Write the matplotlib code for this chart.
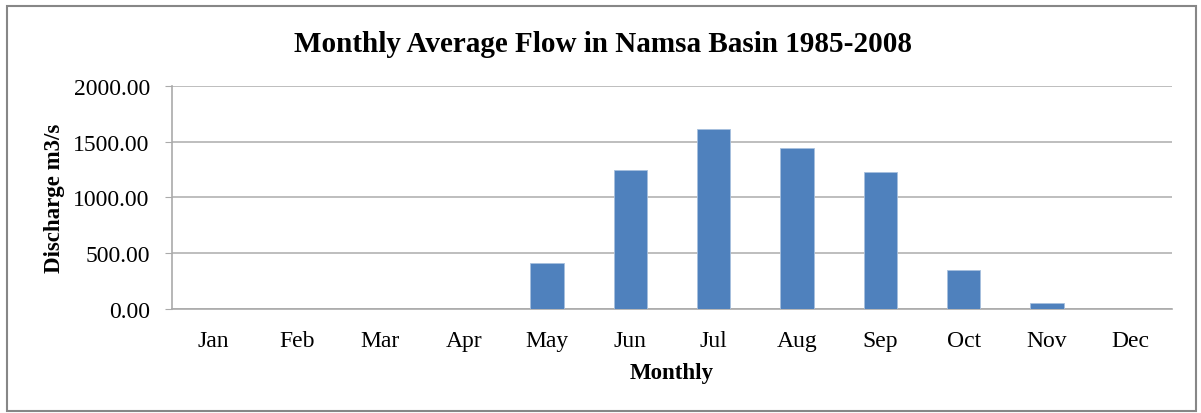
import matplotlib.pyplot as plt
from matplotlib.patches import Rectangle

# Monthly average discharge (m3/s)
months = ['Jan', 'Feb', 'Mar', 'Apr', 'May', 'Jun', 'Jul', 'Aug', 'Sep', 'Oct', 'Nov', 'Dec']
flow = [0, 0, 0, 0, 410, 1250, 1618, 1442, 1230, 348, 52, 0]
yticks = [0, 500, 1000, 1500, 2000]

plt.rcParams['font.family'] = ['Liberation Serif', 'DejaVu Serif']

fig = plt.figure(figsize=(12.01, 4.14), dpi=100)
ax = fig.add_axes([0.1432, 0.2512, 0.8327, 0.5387])

ax.bar(range(len(months)), flow, width=0.4, color='#4F81BD',
       edgecolor='#A7C0DE', linewidth=0.6, zorder=3)

ax.set_xlim(-0.5, len(months) - 0.5)
ax.set_ylim(0, 2000)
ax.set_yticks(yticks)
ax.set_yticklabels([f'{v:.2f}' for v in yticks])
ax.set_xticks(range(len(months)))
ax.set_xticklabels(months)

ax.yaxis.grid(True, color='#B3B3B3', linewidth=1.2, zorder=0)
for s in ['top', 'right']:
    ax.spines[s].set_visible(False)
ax.spines['left'].set_color('#AAAAAA')
ax.spines['bottom'].set_color('#AAAAAA')
ax.spines['left'].set_linewidth(1.2)
ax.spines['bottom'].set_linewidth(1.2)

ax.tick_params(axis='y', length=5, color='#AAAAAA', labelsize=17, pad=11)
ax.tick_params(axis='x', length=0, labelsize=17, pad=15)

ax.set_ylabel('Discharge m3/s', fontsize=16.5, fontweight='bold', labelpad=6)
ax.set_xlabel('Monthly', fontsize=16.5, fontweight='bold', labelpad=8)
fig.text(0.502, 0.893, 'Monthly Average Flow in Namsa Basin 1985-2008',
         ha='center', va='center', fontsize=21, fontweight='bold')

# outer chart border
fig.patches.append(Rectangle((0.006, 0.004), 0.99, 0.98, transform=fig.transFigure,
                             fill=False, edgecolor='#878787', linewidth=1.5))

fig.savefig('out.png', dpi=100)
